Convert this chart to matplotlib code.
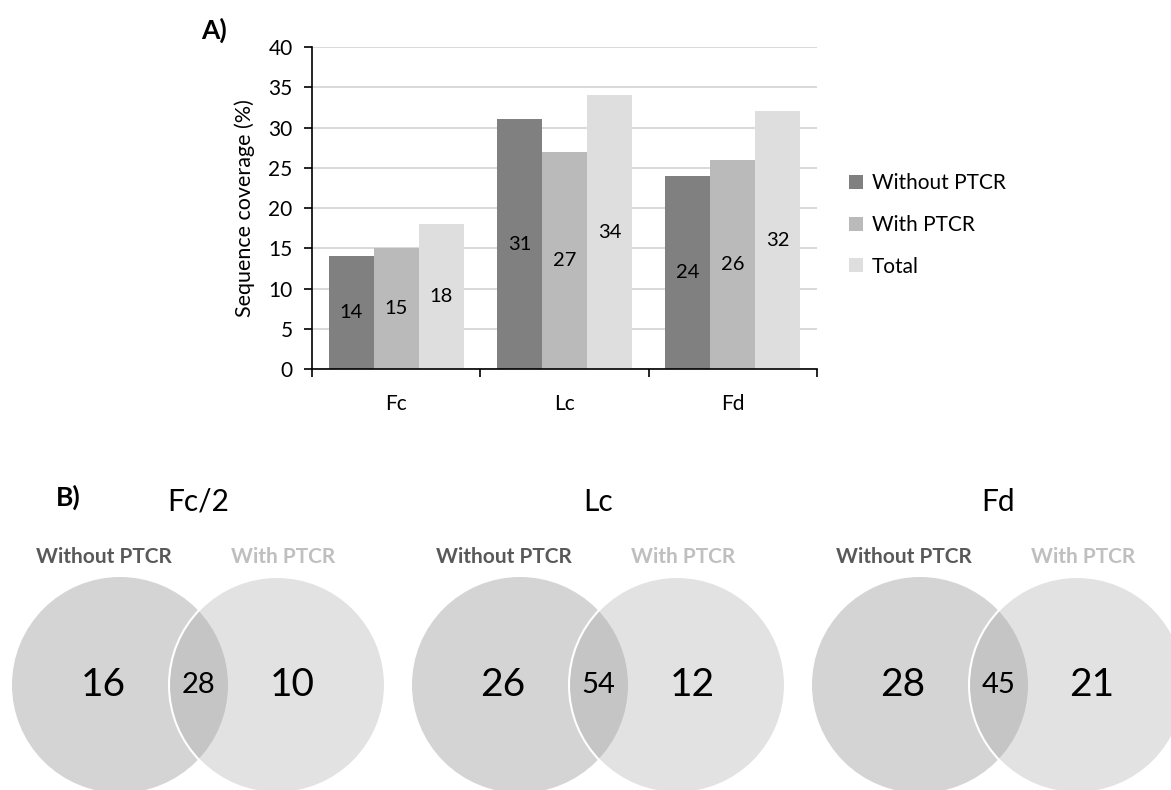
import matplotlib.pyplot as plt
import numpy as np
from matplotlib.patches import Circle

plt.rcParams["font.family"] = ["Lato", "DejaVu Sans"]

# A) sequence coverage per chain
groups = ["Fc", "Lc", "Fd"]
series_names = ["Without PTCR", "With PTCR", "Total"]
without_ptcr = [14, 31, 24]
with_ptcr = [15, 27, 26]
total = [18, 34, 32]
bar_colors = ["#808080", "#bababa", "#dedede"]

# B) peptide overlap (venn counts)
venn_titles = ["Fc/2", "Lc", "Fd"]
only_without = [16, 26, 28]
shared = [28, 54, 45]
only_with = [10, 12, 21]

W, H = 1171, 790
fig = plt.figure(figsize=(W / 100, H / 100), dpi=100)

# full-figure canvas in pixel units for the venn part and panel letters
canvas = fig.add_axes([0, 0, 1, 1])
canvas.set_xlim(0, W)
canvas.set_ylim(H, 0)
canvas.axis("off")

ax = fig.add_axes([312 / W, 1 - 369 / H, 505 / W, 322 / H])
x = np.arange(len(groups))
width = 0.267
for i, (vals, color) in enumerate(zip([without_ptcr, with_ptcr, total], bar_colors)):
    rects = ax.bar(x + (i - 1) * width, vals, width, color=color,
                   label=series_names[i], zorder=2)
    ax.bar_label(rects, label_type="center", fontsize=14.5)

ax.set_xlim(-0.5, 2.5)
ax.set_ylim(0, 40)
ax.set_yticks(range(0, 41, 5))
ax.yaxis.grid(True, color="#d9d9d9", lw=1.4)
ax.set_axisbelow(True)
ax.set_xticks(x)
ax.set_xticklabels(groups)
ax.set_xticks([-0.5, 0.5, 1.5, 2.5], minor=True)
ax.tick_params(axis="x", which="major", length=0, pad=18, labelsize=15)
ax.tick_params(axis="x", which="minor", length=6, width=1.2)
ax.tick_params(axis="y", length=6, width=1.2, pad=8, labelsize=15)
for side in ["top", "right"]:
    ax.spines[side].set_visible(False)
for side in ["left", "bottom"]:
    ax.spines[side].set_linewidth(1.2)
ax.set_ylabel("Sequence coverage (%)", fontsize=15.5, va="center")
ax.yaxis.set_label_coords((245 - 312) / 505, 0.5)

ax.legend(loc="upper left", bbox_to_anchor=(849 / W, 1 - 173 / H),
          bbox_transform=fig.transFigure, frameon=False, fontsize=15,
          handlelength=0.65, handleheight=0.65, handletextpad=0.45,
          labelspacing=1.05, borderpad=0, borderaxespad=0)

canvas.text(214, 30, "A)", fontsize=19, fontweight="bold", ha="center", va="center")
canvas.text(68, 497, "B)", fontsize=19, fontweight="bold", ha="center", va="center")

# venn diagrams
r = 108
cy = 685
for k in range(3):
    lx = 120 + 400 * k
    rx = 277 + 400 * k
    mid = (lx + rx) / 2
    canvas.add_patch(Circle((lx, cy), r, facecolor="#d4d4d4", edgecolor="none", zorder=1))
    canvas.add_patch(Circle((rx, cy), r, facecolor=(0.66, 0.66, 0.66, 0.33),
                            edgecolor="white", lw=1.5, zorder=2))
    canvas.text(mid, 502, venn_titles[k], fontsize=21.5, ha="center", va="center")
    canvas.text(lx - 16, 557, "Without PTCR", fontsize=15, fontweight="bold",
                color="#595959", ha="center", va="center")
    canvas.text(rx + 6, 557, "With PTCR", fontsize=15, fontweight="bold",
                color="#bfbfbf", ha="center", va="center")
    canvas.text(lx - 17, cy, str(only_without[k]), fontsize=28, ha="center", va="center", zorder=3)
    canvas.text(mid, cy, str(shared[k]), fontsize=21, ha="center", va="center", zorder=3)
    canvas.text(rx + 15, cy, str(only_with[k]), fontsize=28, ha="center", va="center", zorder=3)

fig.savefig("out.png", dpi=100)
